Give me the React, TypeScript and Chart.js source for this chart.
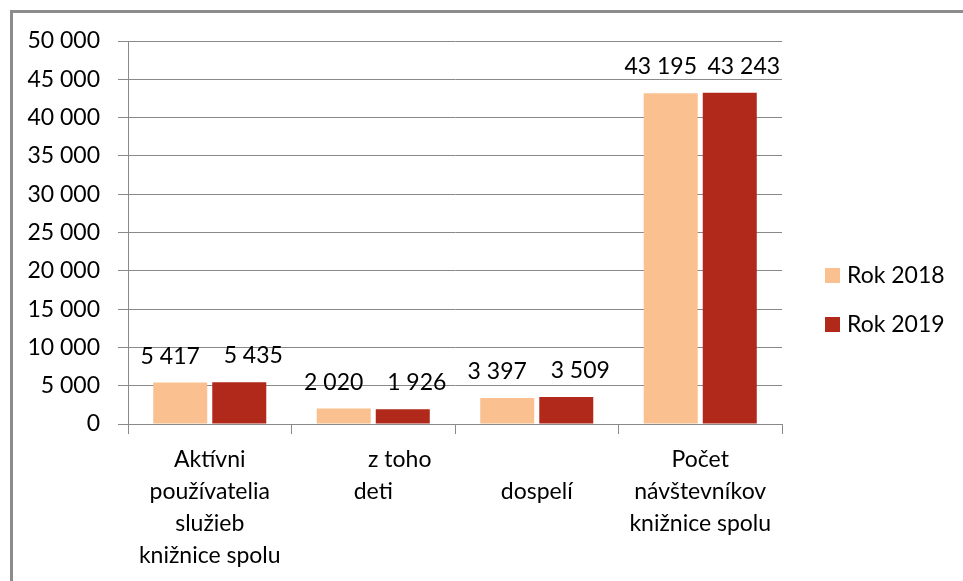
import { useEffect, useRef } from "react";
import { Chart, registerables } from "chart.js";

Chart.register(...registerables);

const categories: string[][] = [
  ["Aktívni", "používatelia", "služieb", "knižnice spolu"],
  ["\u00A0\u00A0\u00A0\u00A0\u00A0\u00A0\u00A0\u00A0\u00A0z toho", "deti"],
  ["", "dospelí"],
  ["Počet", "návštevníkov", "knižnice spolu"],
];
const seriesNames = ["Rok 2018", "Rok 2019"];
const rok2018 = [5417, 2020, 3397, 43195];
const rok2019 = [5435, 1926, 3509, 43243];
const yMin = 0;
const yMax = 50000;
const yStep = 5000;

const FONT = "Lato";
const GRID = "#898989";
const TEXT = "#000000";
const COLORS = ["#FAC090", "#B0291A"];

const fmt = (v: number) => String(Math.round(v)).replace(/\B(?=(\d{3})+(?!\d))/g, " ");

const frame = {
  id: "frame",
  beforeDraw(chart: any) {
    const ctx = chart.ctx;
    ctx.save();
    ctx.fillStyle = "#ffffff";
    ctx.fillRect(0, 0, chart.width, chart.height);
    ctx.fillStyle = "#8c8c8c";
    ctx.fillRect(10, 10, chart.width - 10, 3);
    ctx.fillRect(10, 10, 3, chart.height - 10);
    ctx.restore();
  },
};

const labelOffsets = [-10, 14];
const valueLabels = {
  id: "valueLabels",
  afterDatasetsDraw(chart: any) {
    const ctx = chart.ctx;
    ctx.save();
    ctx.font = `23px ${FONT}`;
    ctx.fillStyle = TEXT;
    ctx.textAlign = "center";
    ctx.textBaseline = "alphabetic";
    chart.data.datasets.forEach((ds: any, di: number) => {
      const meta = chart.getDatasetMeta(di);
      meta.data.forEach((bar: any, i: number) => {
        ctx.fillText(fmt(ds.data[i]), bar.x + labelOffsets[di], bar.y - 19);
      });
    });
    ctx.restore();
  },
};

const customLegend = {
  id: "customLegend",
  afterDraw(chart: any) {
    const ctx = chart.ctx;
    ctx.save();
    ctx.font = `23px ${FONT}`;
    ctx.textAlign = "left";
    ctx.textBaseline = "middle";
    const x = chart.chartArea.right + 43;
    const y0 = 268;
    chart.data.datasets.forEach((ds: any, i: number) => {
      const y = y0 + i * 49;
      ctx.fillStyle = ds.backgroundColor;
      ctx.fillRect(x, y, 15, 15);
      ctx.fillStyle = TEXT;
      ctx.fillText(ds.label, x + 22, y + 8);
    });
    ctx.restore();
  },
};

export default function App() {
  const ref = useRef<HTMLCanvasElement>(null);
  useEffect(() => {
    if (!ref.current) return;
    const chart = new Chart(ref.current, {
      type: "bar",
      data: {
        labels: categories,
        datasets: [
          { label: seriesNames[0], data: rok2018, backgroundColor: COLORS[0], categoryPercentage: 0.722, barPercentage: 0.915 },
          { label: seriesNames[1], data: rok2019, backgroundColor: COLORS[1], categoryPercentage: 0.722, barPercentage: 0.915 },
        ],
      },
      options: {
        responsive: false,
        animation: false,
        devicePixelRatio: 1,
        layout: { padding: { left: 0, top: 41, right: 181, bottom: 0 } },
        plugins: {
          legend: { display: false },
          tooltip: { enabled: false },
        },
        scales: {
          x: {
            afterFit: (s: any) => { s.height = 157; },
            grid: { offset: true, drawOnChartArea: false, drawTicks: true, tickLength: 10, color: GRID, lineWidth: 1 },
            border: { display: true, color: GRID, width: 1 },
            ticks: {
              autoSkip: false,
              maxRotation: 0,
              minRotation: 0,
              padding: 10,
              color: TEXT,
              font: { family: FONT, size: 23, lineHeight: 32 / 23 },
            },
          },
          y: {
            min: yMin,
            max: yMax,
            afterFit: (s: any) => { s.width = 128; },
            grid: { color: GRID, lineWidth: 1, drawTicks: true, tickLength: 10 },
            border: { display: true, color: GRID, width: 1 },
            ticks: {
              stepSize: yStep,
              padding: 18,
              color: TEXT,
              font: { family: FONT, size: 23 },
              callback: (v: any) => fmt(Number(v)),
            },
          },
        },
      },
      plugins: [frame, valueLabels, customLegend],
    });
    return () => chart.destroy();
  }, []);
  return (
    <div style={{ position: "absolute", left: 0, top: 0, width: 963, height: 581 }}>
      <canvas ref={ref} width={963} height={581} style={{ display: "block", width: 963, height: 581 }} />
    </div>
  );
}
